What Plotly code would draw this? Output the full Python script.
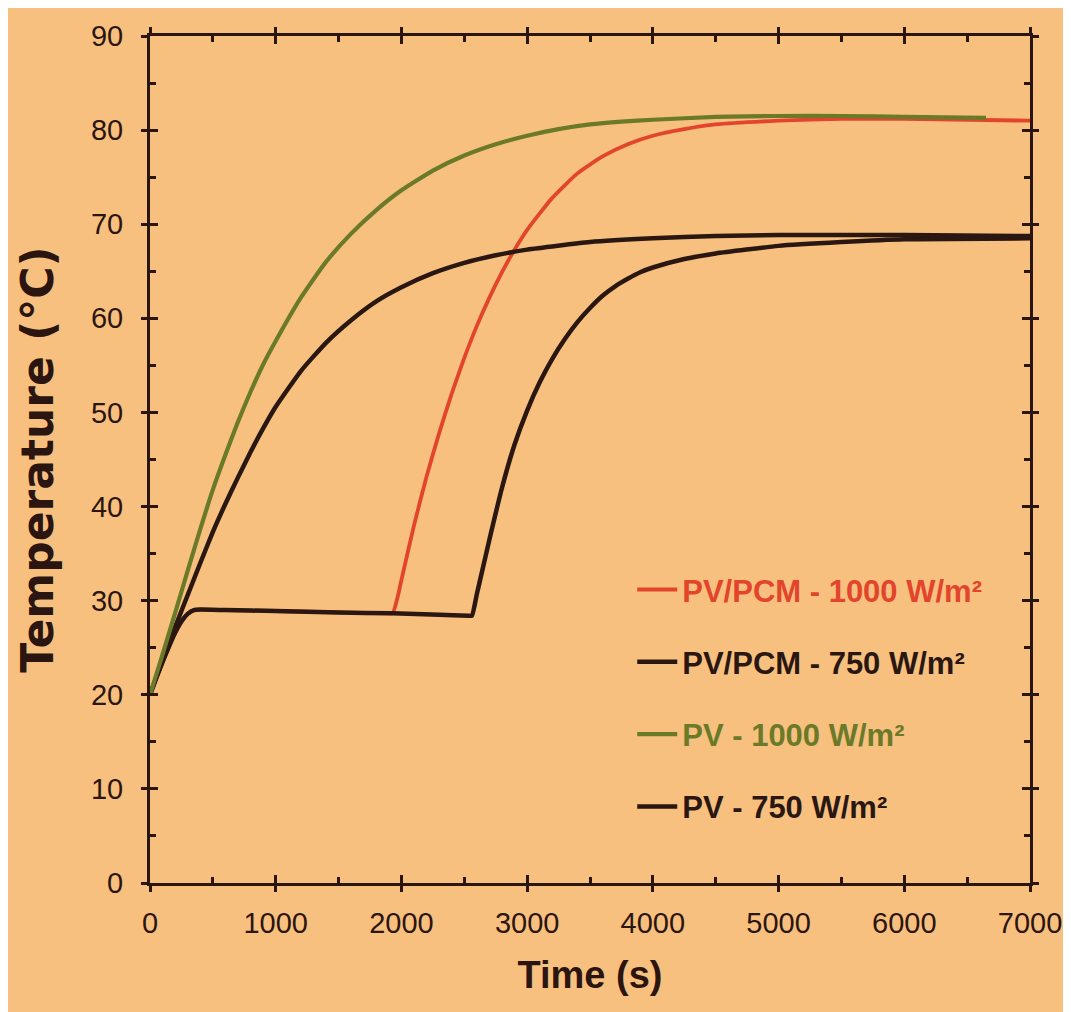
import plotly.graph_objects as go

# ---- data ----
t_pcm1000 = [0, 50, 100, 150, 200, 250, 300, 350, 400, 600, 1000, 1500, 1900, 1930, 1970, 2000, 2100, 2200,
             2300, 2400, 2500, 2600, 2700, 2800, 2900, 3000, 3200, 3400, 3600, 3800, 4000, 4250, 4500,
             5000, 5500, 6000, 7000]
T_pcm1000 = [20, 21.8, 23.5, 25.1, 26.6, 27.8, 28.6, 29.0, 29.05, 29.0, 28.9, 28.75, 28.66, 28.65, 30.4, 32.2,
             38.0, 43.2, 47.8, 52.0, 55.8, 59.2, 62.2, 64.9, 67.3, 69.4, 72.8, 75.4, 77.2, 78.5, 79.4, 80.1,
             80.6, 81.0, 81.2, 81.2, 81.0]

t_pcm750 = [0, 50, 100, 150, 200, 250, 300, 350, 400, 600, 1000, 1500, 1930, 2300, 2530, 2560, 2600, 2650,
            2700, 2800, 2900, 3000, 3100, 3200, 3300, 3400, 3500, 3600, 3700, 3800, 3900, 4000, 4250, 4500,
            5000, 5500, 6000, 7000]
T_pcm750 = [20, 21.8, 23.5, 25.1, 26.6, 27.8, 28.6, 29.0, 29.05, 29.0, 28.9, 28.75, 28.65, 28.5, 28.41, 28.4,
            30.7, 33.6, 36.5, 42.0, 46.6, 50.2, 53.2, 55.7, 57.8, 59.6, 61.1, 62.4, 63.4, 64.2, 64.9, 65.4,
            66.3, 66.9, 67.7, 68.1, 68.4, 68.5]

t_pv1000 = [0, 100, 200, 300, 400, 500, 600, 700, 800, 900, 1000, 1200, 1400, 1600, 1800, 2000, 2250,
            2500, 2750, 3000, 3250, 3500, 3750, 4000, 4500, 5000, 5500, 6000, 6650]
T_pv1000 = [20, 24.3, 28.7, 33.2, 37.6, 41.8, 45.5, 49.0, 52.2, 55.1, 57.6, 62.2, 66.0, 69.0, 71.5, 73.6, 75.7,
            77.3, 78.5, 79.4, 80.1, 80.6, 80.9, 81.1, 81.4, 81.5, 81.5, 81.4, 81.3]

t_pv750 = [0, 100, 200, 300, 400, 500, 600, 700, 800, 900, 1000, 1200, 1400, 1600, 1800, 2000, 2250,
           2500, 2750, 3000, 3500, 4000, 4500, 5000, 6000, 7000]
T_pv750 = [20, 23.6, 27.2, 30.6, 34.0, 37.3, 40.3, 43.1, 45.8, 48.3, 50.6, 54.4, 57.4, 59.8, 61.8, 63.3, 64.8,
           65.9, 66.7, 67.3, 68.1, 68.5, 68.75, 68.85, 68.85, 68.75]

names = ["PV/PCM - 1000 W/m²", "PV/PCM - 750 W/m²", "PV - 1000 W/m²", "PV - 750 W/m²"]
colors = ["#E2452B", "#2A1712", "#6B7A28", "#2A1712"]
ranks = [1, 2, 3, 4]

x_ticks = [0, 1000, 2000, 3000, 4000, 5000, 6000, 7000]
y_ticks = [0, 10, 20, 30, 40, 50, 60, 70, 80, 90]

BG = "#F8C07F"
INK = "#2B1510"
FONT = "Liberation Sans, Arial, sans-serif"

fig = go.Figure()

series = [
    (t_pcm1000, T_pcm1000, 0, 3.8),
    (t_pcm750, T_pcm750, 1, 4.5),
    (t_pv750, T_pv750, 3, 4.5),
    (t_pv1000, T_pv1000, 2, 4.2),
]
for tx, ty, i, w in series:
    fig.add_trace(go.Scatter(
        x=tx, y=ty, mode="lines",
        line=dict(color=colors[i], width=w, shape="spline", smoothing=0.5),
        name=f'<span style="color:{colors[i]}">{names[i]}</span>',
        legendgroup=f"g{i}", legendrank=ranks[i],
    ))

# invisible trace for the overlay axes (outer half of the crossing ticks)
fig.add_trace(go.Scatter(x=[], y=[], xaxis="x2", yaxis="y2", showlegend=False, hoverinfo="skip"))

axis_common = dict(showgrid=False, zeroline=False, color=INK)

fig.update_layout(
    width=1071, height=1012,
    margin=dict(l=142, r=49, t=25, b=137),
    paper_bgcolor=BG, plot_bgcolor=BG,
    font=dict(family=FONT, color=INK),
    showlegend=True,
    legend=dict(
        x=0.548, y=0.378, xanchor="left", yanchor="top",
        bgcolor="rgba(0,0,0,0)", borderwidth=0,
        font=dict(family=FONT, size=31, weight="bold"),
        tracegroupgap=29, traceorder="grouped", itemwidth=40,
    ),
    xaxis=dict(
        **axis_common, range=[0, 7000], tickvals=x_ticks,
        ticks="inside", ticklen=8, tickwidth=3, tickcolor=INK,
        minor=dict(dtick=500, ticks="inside", ticklen=6, tickwidth=2.5, tickcolor=INK),
        showline=True, linewidth=3, linecolor=INK, mirror="ticks",
        tickfont=dict(family=FONT, size=29, color=INK), ticklabelstandoff=12,
        title=dict(text="Time (s)", font=dict(family=FONT, size=38, weight="bold", color=INK), standoff=24),
    ),
    yaxis=dict(
        **axis_common, range=[0, 90], tickvals=y_ticks,
        ticks="inside", ticklen=8, tickwidth=3, tickcolor=INK,
        minor=dict(dtick=5, ticks="inside", ticklen=6, tickwidth=2.5, tickcolor=INK),
        showline=True, linewidth=3, linecolor=INK, mirror="ticks",
        tickfont=dict(family=FONT, size=29, color=INK), ticklabelstandoff=18,
        title=dict(text="Temperature (°C)",
                   font=dict(family="DejaVu Sans, Liberation Sans, sans-serif", size=44, weight="bold", color=INK),
                   standoff=24),
    ),
    xaxis2=dict(
        **axis_common, overlaying="x", anchor="y2", range=[0, 7000], tickvals=x_ticks,
        ticks="outside", ticklen=8, tickwidth=3, tickcolor=INK, mirror="ticks",
        showline=False, showticklabels=False,
    ),
    yaxis2=dict(
        **axis_common, overlaying="y", anchor="x2", range=[0, 90], tickvals=y_ticks,
        ticks="outside", ticklen=8, tickwidth=3, tickcolor=INK, mirror="ticks",
        showline=False, showticklabels=False,
    ),
)

fig.write_html("out.html")
